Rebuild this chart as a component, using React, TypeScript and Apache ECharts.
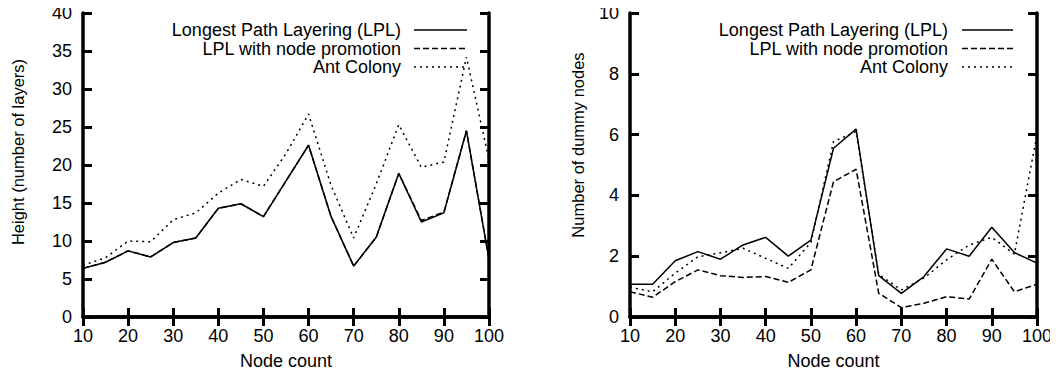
import React, { useEffect, useRef } from "react";
import * as echarts from "echarts";

const nodeCounts = [10, 15, 20, 25, 30, 35, 40, 45, 50, 55, 60, 65, 70, 75, 80, 85, 90, 95, 100];

const seriesNames = ["Longest Path Layering (LPL)", "LPL with node promotion", "Ant Colony"];

const heightLPL = [6.4, 7.2, 8.7, 7.9, 9.8, 10.4, 14.3, 14.9, 13.2, 17.9, 22.6, 13.2, 6.7, 10.5, 18.9, 12.5, 13.7, 24.5, 7.6];
const heightPromo = [6.4, 7.2, 8.7, 7.9, 9.8, 10.4, 14.3, 14.9, 13.2, 17.9, 22.6, 13.2, 6.7, 10.5, 18.9, 12.7, 13.8, 24.5, 7.6];
const heightAnt = [6.8, 7.8, 10.0, 9.9, 12.8, 13.7, 16.3, 18.1, 17.2, 21.5, 26.7, 17.3, 10.4, 17.5, 25.3, 19.7, 20.4, 34.2, 20.7];

const dummyLPL = [1.08, 1.08, 1.85, 2.15, 1.9, 2.37, 2.62, 2.0, 2.53, 5.55, 6.18, 1.36, 0.78, 1.33, 2.24, 2.0, 2.95, 2.12, 1.77];
const dummyPromo = [0.83, 0.65, 1.16, 1.55, 1.36, 1.3, 1.33, 1.14, 1.55, 4.45, 4.86, 0.78, 0.31, 0.45, 0.67, 0.59, 1.9, 0.83, 1.08];
const dummyAnt = [0.98, 0.83, 1.44, 1.98, 2.11, 2.26, 1.93, 1.6, 2.45, 5.77, 6.1, 1.4, 0.89, 1.28, 1.88, 2.37, 2.62, 2.07, 6.0];

const leftYAxisName = "Height (number of layers)";
const rightYAxisName = "Number of dummy nodes";
const xAxisName = "Node count";

const FONT = "Liberation Sans, Arial, Helvetica, sans-serif";
const dashes: (number[] | "solid")[] = ["solid", [6, 3], [2, 4]];

export default function App() {
  const ref = useRef<HTMLDivElement>(null);

  useEffect(() => {
    if (!ref.current) return;
    const chart = echarts.init(ref.current, null, { renderer: "svg" });

    const grids = [
      { left: 83, right: 569, top: 13, bottom: 60 },
      { left: 630, right: 21, top: 13, bottom: 60 },
    ];
    const yRanges = [
      { min: 0, max: 40, interval: 5 },
      { min: 0, max: 10, interval: 2 },
    ];

    const tickStyle = { show: true, inside: true, length: 9, lineStyle: { color: "#000", width: 3 } };
    const lineStyleAxis = { show: true, lineStyle: { color: "#000", width: 3.5 } };

    const xAxes: any[] = [];
    const yAxes: any[] = [];
    [0, 1].forEach((g) => {
      xAxes.push({
        type: "value",
        gridIndex: g,
        min: 10,
        max: 100,
        interval: 10,
        position: "bottom",
        name: xAxisName,
        nameLocation: "middle",
        nameGap: 35,
        nameTextStyle: { color: "#000", fontSize: 18, fontFamily: FONT },
        axisLine: lineStyleAxis,
        axisTick: tickStyle,
        axisLabel: { color: "#000", fontSize: 18, fontFamily: FONT, margin: 10 },
        splitLine: { show: false },
      });
      xAxes.push({
        type: "value",
        gridIndex: g,
        min: 10,
        max: 100,
        interval: 10,
        position: "top",
        axisLine: lineStyleAxis,
        axisTick: tickStyle,
        axisLabel: { show: false },
        splitLine: { show: false },
      });
      yAxes.push({
        type: "value",
        gridIndex: g,
        ...yRanges[g],
        position: "left",
        axisLine: lineStyleAxis,
        axisTick: tickStyle,
        axisLabel: { color: "#000", fontSize: 18, fontFamily: FONT, margin: 11 },
        splitLine: { show: false },
      });
      yAxes.push({
        type: "value",
        gridIndex: g,
        ...yRanges[g],
        position: "right",
        axisLine: lineStyleAxis,
        axisTick: tickStyle,
        axisLabel: { show: false },
        splitLine: { show: false },
      });
    });

    const dataSets = [
      [heightLPL, heightPromo, heightAnt],
      [dummyLPL, dummyPromo, dummyAnt],
    ];

    const series: any[] = [];
    dataSets.forEach((sets, g) => {
      sets.forEach((vals, i) => {
        series.push({
          type: "line",
          name: seriesNames[i],
          xAxisIndex: g * 2,
          yAxisIndex: g * 2,
          data: nodeCounts.map((x, k) => [x, vals[k]]),
          showSymbol: false,
          symbol: "none",
          lineStyle: { color: "#000", width: 1.5, type: dashes[i] },
          z: 3,
        });
      });
    });

    const graphic: any[] = [];
    const legendPos = [
      { textRight: 401, lineX1: 414, lineX2: 467 },
      { textRight: 948, lineX1: 962, lineX2: 1013 },
    ];
    const rowY = [30, 48.5, 67];
    legendPos.forEach((lp) => {
      seriesNames.forEach((nm, i) => {
        graphic.push({
          type: "text",
          x: lp.textRight,
          y: rowY[i],
          style: {
            text: nm,
            fill: "#000",
            font: `18px ${FONT}`,
            align: "right",
            verticalAlign: "middle",
          },
        });
        graphic.push({
          type: "line",
          shape: { x1: lp.lineX1, y1: rowY[i], x2: lp.lineX2, y2: rowY[i] },
          style: {
            stroke: "#000",
            lineWidth: 1.5,
            lineDash: dashes[i] === "solid" ? null : dashes[i],
          },
        });
      });
    });
    graphic.push({
      type: "text",
      x: 18,
      y: 152,
      rotation: Math.PI / 2,
      style: { text: leftYAxisName, fill: "#000", font: `16.5px ${FONT}`, align: "center", verticalAlign: "middle" },
    });
    graphic.push({
      type: "text",
      x: 578,
      y: 145,
      rotation: Math.PI / 2,
      style: { text: rightYAxisName, fill: "#000", font: `16.5px ${FONT}`, align: "center", verticalAlign: "middle" },
    });

    chart.setOption({
      animation: false,
      backgroundColor: "#fff",
      textStyle: { fontFamily: FONT },
      grid: grids.map((g) => ({ ...g, show: false })),
      xAxis: xAxes,
      yAxis: yAxes,
      series,
      graphic,
    });

    return () => chart.dispose();
  }, []);

  return <div ref={ref} style={{ width: 1058, height: 377, margin: -8 }} />;
}
